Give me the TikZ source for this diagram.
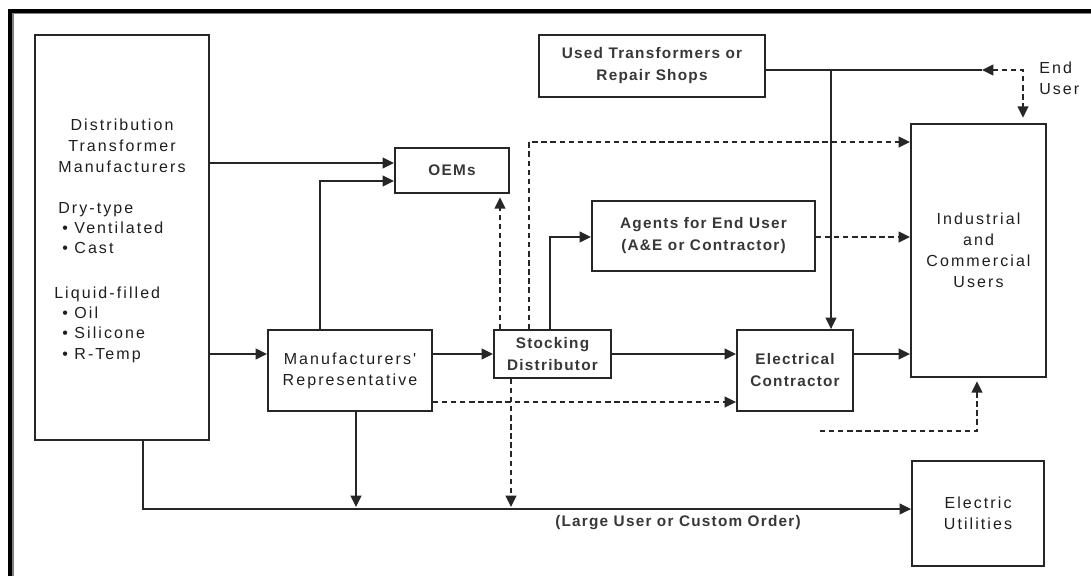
\documentclass[tikz,border=0pt]{standalone}
\usepackage{fontspec}
\usetikzlibrary{arrows.meta}
\setmainfont{Liberation Sans}
\newfontfamily\regf{Liberation Sans}[LetterSpace=13]
\newfontfamily\heavyf{Liberation Sans}[LetterSpace=8]
\definecolor{linec}{RGB}{38,38,38}
\definecolor{txtc}{RGB}{30,30,30}
\definecolor{txtb}{RGB}{55,55,55}
\begin{document}
\begin{tikzpicture}[x=0.75pt,y=-0.75pt,
  tip/.tip={Triangle[length=8.5pt,width=8pt]},
  ln/.style={draw=linec,line width=1.4pt},
  dln/.style={ln,dash pattern=on 4pt off 2.8pt},
  box/.style={draw=linec,line width=1.4pt,inner sep=0pt,align=center,
    text=txtc,font=\regf\fontsize{12pt}{15.75pt}\selectfont},
  hbox/.style={box,text=txtb,font=\heavyf\bfseries\fontsize{11.5pt}{16.5pt}\selectfont},
  lbl/.style={inner sep=0pt,text=txtc,font=\regf\fontsize{12pt}{15.75pt}\selectfont},
  hlbl/.style={inner sep=0pt,text=txtb,font=\heavyf\bfseries\fontsize{11.5pt}{15pt}\selectfont}]
\useasboundingbox (0,0) rectangle (1091,576);

% page frame (top and left edges only)
\draw[line width=1.5pt,gray] (13,576) -- (13,13) -- (1091,13);
\draw[line width=3pt,black] (10,576) -- (10,10.5) -- (1091,10.5);

% boxes
\node[box,minimum width=130.5pt,minimum height=303.75pt] (dist) at (122,237.5) {};
\node[hbox,minimum width=85.5pt,minimum height=33.75pt] (oem) at (452,170.5) {OEMs};
\node[hbox,minimum width=169.5pt,minimum height=46.5pt] (used) at (652,66) {Used Transformers or\\Repair Shops};
\node[hbox,minimum width=167.25pt,minimum height=52.5pt] (agents) at (703.5,236) {Agents for End User\\(A\&E or Contractor)};
\node[box,minimum width=101.25pt,minimum height=189.75pt] (ind) at (978.5,250.5) {Industrial\\and\\Commercial\\Users};
\node[box,minimum width=123pt,minimum height=60.75pt] (rep) at (350,370.5) {Manufacturers'\\Representative};
\node[hbox,minimum width=87.75pt,minimum height=36pt] (stock) at (552.5,354) {Stocking\\Distributor};
\node[hbox,minimum width=87pt,minimum height=60.75pt] (ec) at (795,370.5) {Electrical\\Contractor};
\node[box,minimum width=99pt,minimum height=78.75pt] (util) at (978,513.5) {Electric\\Utilities};

% text inside the manufacturers box
\node[lbl,align=center] (dtitle) at (122,146) {Distribution\\Transformer\\Manufacturers};
\node[lbl,anchor=base west] (dry) at (58,213) {Dry-type};
\node[lbl,anchor=base west] (dry1) at (62,233) {\textbullet\ Ventilated};
\node[lbl,anchor=base west] (dry2) at (62,253) {\textbullet\ Cast};
\node[lbl,anchor=base west] (liq) at (54,298) {Liquid-filled};
\node[lbl,anchor=base west] (liq1) at (62,318) {\textbullet\ Oil};
\node[lbl,anchor=base west] (liq2) at (62,338) {\textbullet\ Silicone};
\node[lbl,anchor=base west] (liq3) at (62,359) {\textbullet\ R-Temp};

% free labels
\node[lbl,align=left,anchor=west] (enduser) at (1039,78) {End\\User};
\node[hlbl] (large) at (678,523) {(Large User or Custom Order)};

% junction and end points
\coordinate (bus1) at (356,509);
\coordinate (bus2) at (511,509);
\coordinate (eu) at (982,70);
\coordinate (jn) at (831,70);
\coordinate (fe) at (820,431);

% solid connectors
\draw[ln,-tip] (dist.east |- 0,163) -- (oem.west |- 0,163);
\draw[ln,-tip] (rep.north -| 320,0) |- (oem.west |- 0,181);
\draw[ln,-tip] (dist.east |- 0,354) -- (rep.west |- 0,354);
\draw[ln,-tip] (dist.south -| 143,0) |- (util.west |- 0,509);
\draw[ln,-tip,shorten >=1.5pt] (rep.south -| bus1) -- (bus1);
\draw[ln,-tip] (rep.east |- 0,354) -- (stock.west |- 0,354);
\draw[ln,-tip] (stock.east |- 0,354) -- (ec.west |- 0,354);
\draw[ln,-tip] (ec.east |- 0,354) -- (ind.west |- 0,354);
\draw[ln,-tip] (stock.north -| 550,0) |- (agents.west |- 0,237);
\draw[ln] (used.east |- eu) -- (eu);
\draw[ln,-tip] (jn) -- (ec.north -| jn);

% dashed connectors
\draw[dln,-tip,shorten >=1.5pt] (stock.south -| bus2) -- (bus2);
\draw[dln,-tip] (rep.east |- 0,402) -- (ec.west |- 0,402);
\draw[dln,-tip,shorten >=2.5pt] (stock.north -| 500,0) -- (oem.south -| 500,0);
\draw[dln,-tip] (stock.north -| 529,0) |- (ind.west |- 0,142);
\draw[dln,-tip] (agents.east |- 0,237) -- (ind.west |- 0,237);
\draw[dln,tip-tip,shorten >=4pt] (eu) -| (ind.north -| 1023,0);
\draw[dln,-tip,shorten >=2.5pt] (fe) -| (ind.south -| 977,0);
\end{tikzpicture}
\end{document}
